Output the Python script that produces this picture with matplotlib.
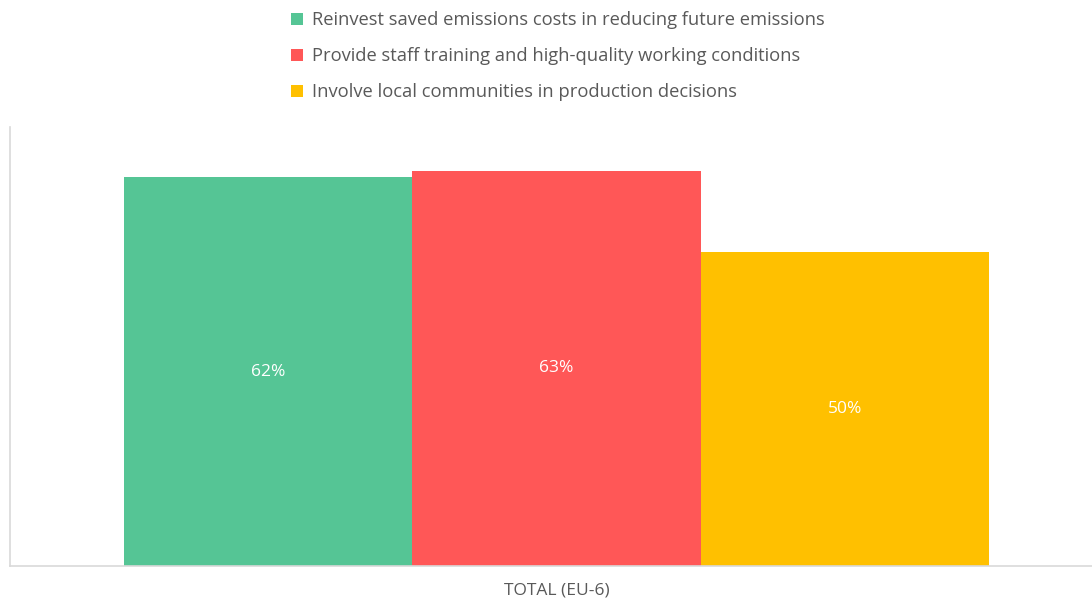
import matplotlib.pyplot as plt

SERIES = [
    'Reinvest saved emissions costs in reducing future emissions',
    'Provide staff training and high-quality working conditions',
    'Involve local communities in production decisions',
]
VALUES = [62, 63, 50]
LABELS = ['62%', '63%', '50%']
COLORS = ['#55C595', '#FF5757', '#FFC000']
CATEGORY = 'TOTAL (EU-6)'

W, H = 1092, 598
fig = plt.figure(figsize=(W / 100, H / 100), dpi=100)
plt.rcParams['font.family'] = ['Open Sans', 'DejaVu Sans']

# axes box: left spine at x=10, top y=127, bottom y=566
ax = fig.add_axes([10 / W, 1 - 566 / H, 1 - 10 / W, (566 - 127) / H])

offsets = [-1, 0, 1]
bars = []
for off, val, lab, col, name in zip(offsets, VALUES, LABELS, COLORS, SERIES):
    b = ax.bar(off, val, width=1.0, color=col, label=name)
    bars.append(b)
    ax.text(off, val / 2, lab, ha='center', va='center', color='white', fontsize=12.5)

ax.set_xlim(-1.896, 1.858)
ax.set_ylim(0, 70)
ax.set_xticks([])
ax.set_yticks([])
for s in ['top', 'right']:
    ax.spines[s].set_visible(False)
for s in ['left', 'bottom']:
    ax.spines[s].set_color('#D9D9D9')
    ax.spines[s].set_linewidth(1.2)

ax.text(0, -0.055, CATEGORY, transform=ax.get_xaxis_transform(),
        ha='center', va='center', fontsize=12.5, color='#595959')

leg = fig.legend(handles=[b[0] for b in bars], labels=SERIES,
                 loc='upper left', bbox_to_anchor=(274 / W, 1 + 5 / H),
                 frameon=False, fontsize=13.2, labelcolor='#595959',
                 handlelength=0.7, handleheight=0.7, handletextpad=0.5,
                 labelspacing=0.98)

fig.savefig('out.png', dpi=100)
